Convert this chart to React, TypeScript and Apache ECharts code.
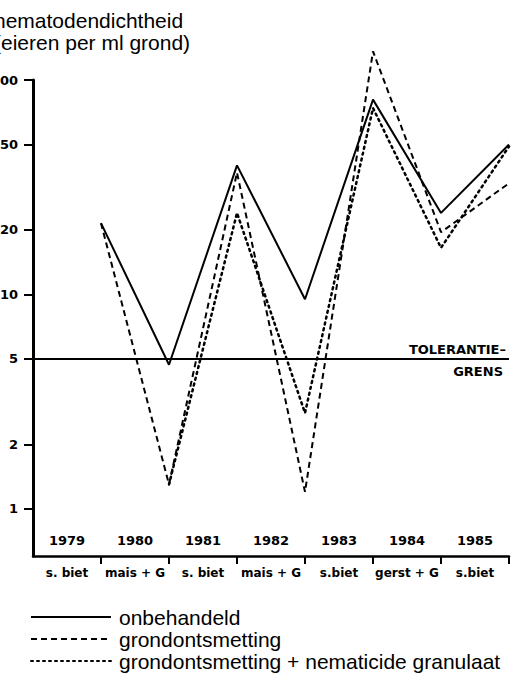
import React, { useEffect, useRef } from "react";
import * as echarts from "echarts";

const crops = ["s. biet", "mais + G", "s. biet", "mais + G", "s.biet", "gerst + G", "s.biet"];
const years = ["1979", "1980", "1981", "1982", "1983", "1984", "1985"];
const yTicks = [1, 2, 5, 10, 20, 50, 100];
// sampling moments: end of each year (category boundaries 1..7)
const pointX = [1, 2, 3, 4, 5, 6, 7];
const onbehandeld = [21.5, 4.7, 40, 9.5, 81, 24, 50];
const grondontsmetting = [21.5, 1.3, 37, 1.2, 136, 19.5, 33];
const granulaat: (number | null)[] = [null, 1.3, 24, 2.8, 74, 16.5, 49];
const tolerantiegrens = 5;
const yMinValue = 0.603;
const yMaxValue = 100;

const toData = (vals: (number | null)[]) =>
  pointX
    .map((x, i) => (vals[i] == null ? null : [x, Math.log10(vals[i] as number)]))
    .filter((d) => d !== null);

const labelFont = "'DejaVu Sans', sans-serif";
const textFont = "'Liberation Sans', Arial, sans-serif";

const tolLabel = (text: string, position: string, distance: number) => ({
  formatter: text,
  position,
  distance,
  color: "#000",
  fontWeight: "bold",
  fontSize: 13,
  fontFamily: labelFont,
});

export default function App() {
  const ref = useRef<HTMLDivElement>(null);
  useEffect(() => {
    if (!ref.current) return;
    const chart = echarts.init(ref.current, null, { renderer: "svg" });
    const catCenters = crops.map((_, i) => i + 0.5);
    const catBounds = pointX.slice();
    const option: any = {
      animation: false,
      backgroundColor: "#fff",
      grid: { left: 33, right: 6, top: 80, bottom: 128, containLabel: false, outerBoundsMode: "none" },
      graphic: [
        {
          type: "text",
          left: -6,
          top: 9,
          style: {
            text: "nematodendichtheid\n(eieren per ml grond)",
            fontSize: 21,
            lineHeight: 22,
            fontFamily: textFont,
            fill: "#000",
          },
        },
      ],
      legend: {
        orient: "vertical",
        left: 30,
        top: 606,
        itemWidth: 80,
        itemHeight: 12,
        itemGap: 0,
        padding: 0,
        itemStyle: { opacity: 0, borderWidth: 0 },
        textStyle: { fontSize: 21, lineHeight: 22, fontFamily: textFont, color: "#000", padding: [0, 0, 0, 3] },
        data: ["onbehandeld", "grondontsmetting", "grondontsmetting + nematicide granulaat"],
      },
      xAxis: [
        {
          type: "value",
          min: 0,
          max: 7,
          position: "bottom",
          splitLine: { show: false },
          axisLine: { onZero: false, lineStyle: { color: "#000", width: 2.5 } },
          axisTick: { customValues: catBounds, length: 8, lineStyle: { color: "#000", width: 2 } },
          axisLabel: {
            customValues: catCenters,
            formatter: (v: number) => crops[Math.floor(v)],
            margin: 11,
            color: "#000",
            fontWeight: "bold",
            fontSize: 12,
            fontFamily: labelFont,
          },
        },
        {
          type: "value",
          min: 0,
          max: 7,
          position: "bottom",
          splitLine: { show: false },
          axisLine: { show: false, onZero: false },
          axisTick: { show: false },
          axisLabel: {
            inside: true,
            customValues: catCenters,
            formatter: (v: number) => years[Math.floor(v)],
            margin: 9,
            color: "#000",
            fontWeight: "bold",
            fontSize: 13,
            fontFamily: labelFont,
          },
        },
      ],
      yAxis: {
        type: "value",
        min: Math.log10(yMinValue),
        max: Math.log10(yMaxValue),
        splitLine: { show: false },
        axisLine: { show: true, onZero: false, lineStyle: { color: "#000", width: 3 } },
        axisTick: {
          customValues: yTicks.map((v) => Math.log10(v)),
          length: 9,
          lineStyle: { color: "#000", width: 2 },
        },
        axisLabel: {
          customValues: yTicks.map((v) => Math.log10(v)),
          formatter: (v: number) => String(Math.round(Math.pow(10, v))),
          margin: 15,
          color: "#000",
          fontWeight: "bold",
          fontSize: 13,
          fontFamily: labelFont,
        },
      },
      series: [
        {
          name: "onbehandeld",
          type: "line",
          symbol: "none",
          clip: false,
          data: toData(onbehandeld),
          lineStyle: { color: "#000", width: 2, type: "solid" },
          itemStyle: { color: "#000" },
          markLine: {
            silent: true,
            symbol: "none",
            data: [
              {
                yAxis: Math.log10(tolerantiegrens),
                lineStyle: { color: "#000", width: 2, type: "solid" },
                label: tolLabel("TOLERANTIE–", "insideEndTop", 3),
              },
            ],
          },
        },
        {
          name: "grondontsmetting",
          type: "line",
          symbol: "none",
          clip: false,
          data: toData(grondontsmetting),
          lineStyle: { color: "#000", width: 2, type: [6, 4] },
          itemStyle: { color: "#000" },
          markLine: {
            silent: true,
            symbol: "none",
            data: [
              {
                yAxis: Math.log10(tolerantiegrens),
                lineStyle: { color: "#000", width: 2, type: "solid" },
                label: tolLabel("GRENS", "insideEndBottom", 6),
              },
            ],
          },
        },
        {
          name: "grondontsmetting + nematicide granulaat",
          type: "line",
          symbol: "none",
          clip: false,
          data: toData(granulaat),
          lineStyle: { color: "#000", width: 2.5, type: [2, 4], cap: "round" },
          itemStyle: { color: "#000" },
        },
      ],
    };
    chart.setOption(option);
    return () => chart.dispose();
  }, []);
  return (
    <div
      ref={ref}
      style={{ position: "fixed", left: 0, top: 0, width: 515, height: 684, background: "#fff" }}
    />
  );
}
